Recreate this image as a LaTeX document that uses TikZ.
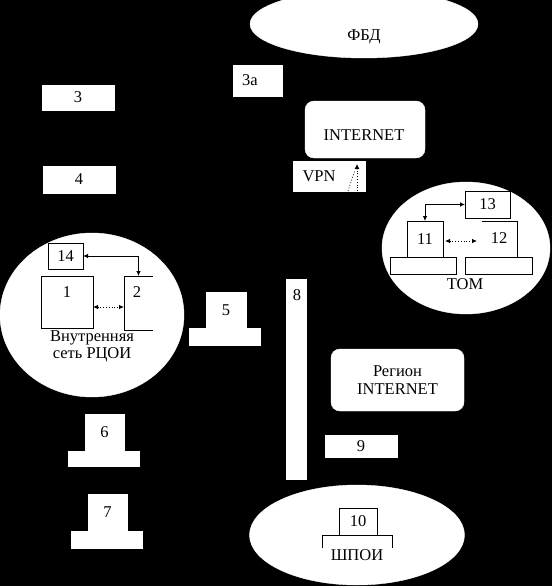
\documentclass[tikz,border=0pt]{standalone}
\usepackage{fontspec}
\setmainfont{Liberation Serif}
\newfontfamily\tms{Liberation Serif}
\usetikzlibrary{shapes.geometric,arrows.meta}
\begin{document}
\begin{tikzpicture}[x=1pt,y=-1pt,
  font=\tms\fontsize{16.5}{19}\selectfont,
  wbox/.style={draw=white,fill=white,inner sep=0pt,outer sep=0pt},
  obox/.style={draw=black,fill=white,inner sep=0pt,outer sep=0pt,line width=0.8pt},
  blob/.style={ellipse,fill=white,draw=white,inner sep=0pt,outer sep=0pt},
  rbox/.style={fill=white,draw=white,rounded corners=9pt,inner sep=0pt,outer sep=0pt},
  txt/.style={inner sep=0pt,text=black},
  link/.style={line width=0.8pt,{Latex[length=5pt,width=4.5pt]}-{Latex[length=5pt,width=4.5pt]}},
  dlink/.style={line width=0.8pt,dotted,{Latex[length=5pt,width=4.5pt]}-{Latex[length=5pt,width=4.5pt]}}
]
\fill[black] (0,0) rectangle (552,586);
\useasboundingbox (0,0) rectangle (552,586);

% clouds
\node[blob,minimum width=228pt,minimum height=68pt] (fbd) at (364,24) {};
\node[txt] (fbdt) at (364,37) {ФБД};
\node[blob,minimum width=184pt,minimum height=164pt] (rcoi) at (92,315) {};
\node[blob,minimum width=168pt,minimum height=132pt] (tom) at (466,248) {};
\node[blob,minimum width=215pt,minimum height=100pt] (shpoi) at (357,535) {};

% plain white boxes
\node[wbox,minimum width=49pt,minimum height=31pt] (b3a) at (257.5,80.5) {};
\node[txt] (t3a) at (250,80) {3а};
\node[wbox,minimum width=72pt,minimum height=25pt] (b3) at (78,97.5) {3};
\node[wbox,minimum width=72pt,minimum height=27pt] (b4) at (79,179.5) {4};
\node[rbox,minimum width=120pt,minimum height=57pt] (inet) at (365,129.5) {};
\node[txt] (inett) at (364,135) {INTERNET};
\node[wbox,minimum width=72pt,minimum height=30pt] (vpn) at (329,176) {};
\node[txt] (vpnt) at (319,176) {VPN};
\node[rbox,minimum width=133pt,minimum height=62pt,align=center,text=black] (reg) at (397.5,380) {Регион\\[-1pt]INTERNET};
\node[wbox,minimum width=72pt,minimum height=22pt] (b9) at (361,446) {9};
\node[wbox,minimum width=20pt,minimum height=200pt] (b8) at (296,379) {};
\node[txt] (t8) at (297,295) {8};

% computers on black
\node[wbox,minimum width=40pt,minimum height=36pt] (m5) at (226,310) {5};
\node[wbox,minimum width=71pt,minimum height=17pt] (s5) at (224.5,336.5) {};
\node[wbox,minimum width=39pt,minimum height=36pt] (m6) at (104.5,432) {6};
\node[wbox,minimum width=71pt,minimum height=15pt] (s6) at (103.5,458.5) {};
\node[wbox,minimum width=39pt,minimum height=36pt] (m7) at (107.5,512) {7};
\node[wbox,minimum width=71pt,minimum height=17pt] (s7) at (106.5,539.5) {};

% inner network RCOI
\node[obox,minimum width=35pt,minimum height=26pt] (n14) at (65.5,256) {14};
\node[obox,minimum width=52pt,minimum height=52pt] (n1) at (67,302) {};
\node[txt] (t1) at (67,292) {1};
\node[inner sep=0pt,outer sep=0pt,minimum width=29pt,minimum height=54pt] (n2) at (138.5,303) {};
\draw[line width=0.8pt] (n2.north east) -- (n2.north west) -- (n2.south west) -- (n2.south east);
\node[txt] (t2) at (137,292) {2};
\node[txt] (trcoi) at (92,346) {\begin{tabular}{@{}c@{}}Внутренняя\\[-2pt]сеть РЦОИ\end{tabular}};
\draw[link] (n14.east) -| (n2.north);
\draw[dlink] ([yshift=-5pt]n1.east) -- ([yshift=-5pt]n1.east -| n2.west);

% TOM
\node[obox,minimum width=45pt,minimum height=27pt] (n13) at (487.5,204.5) {13};
\node[obox,minimum width=36pt,minimum height=36pt] (n11) at (425,239) {11};
\node[obox,minimum width=66pt,minimum height=17pt] (s11) at (423,265.5) {};
\node[inner sep=0pt,outer sep=0pt,minimum width=35pt,minimum height=36pt] (n12) at (499.5,239) {};
\draw[line width=0.8pt] (n12.north west) -- (n12.north east) -- (n12.south east);
\node[txt] (t12) at (499,238) {12};
\node[obox,minimum width=67pt,minimum height=17pt] (s12) at (498.5,265.5) {};
\node[txt] (ttom) at (465,284) {ТОМ};
\draw[link] (n13.west) -| (n11.north);
\draw[dlink,shorten <=2pt,shorten >=5pt] ([yshift=-2pt]n11.east) -- ([yshift=-2pt]n11.east -| n12.west);

% VPN arrow
\coordinate (vtip) at (357,164);
\coordinate (vbase) at (357,191);
\coordinate (vslant) at (348,191);
\draw[line width=0.8pt,dotted,-{Latex[length=5pt,width=5pt]}] (vbase) -- (vtip);
\draw[line width=0.8pt,dotted] (vslant) -- (355,170);

% SHPOI
\node[obox,minimum width=38pt,minimum height=27pt] (n10) at (358,521.5) {10};
\draw[line width=0.8pt] (322,548) -- (322,535) -- (392,535) -- (392,548);
\node[txt] (tshpoi) at (357,555) {ШПОИ};
\end{tikzpicture}
\end{document}
